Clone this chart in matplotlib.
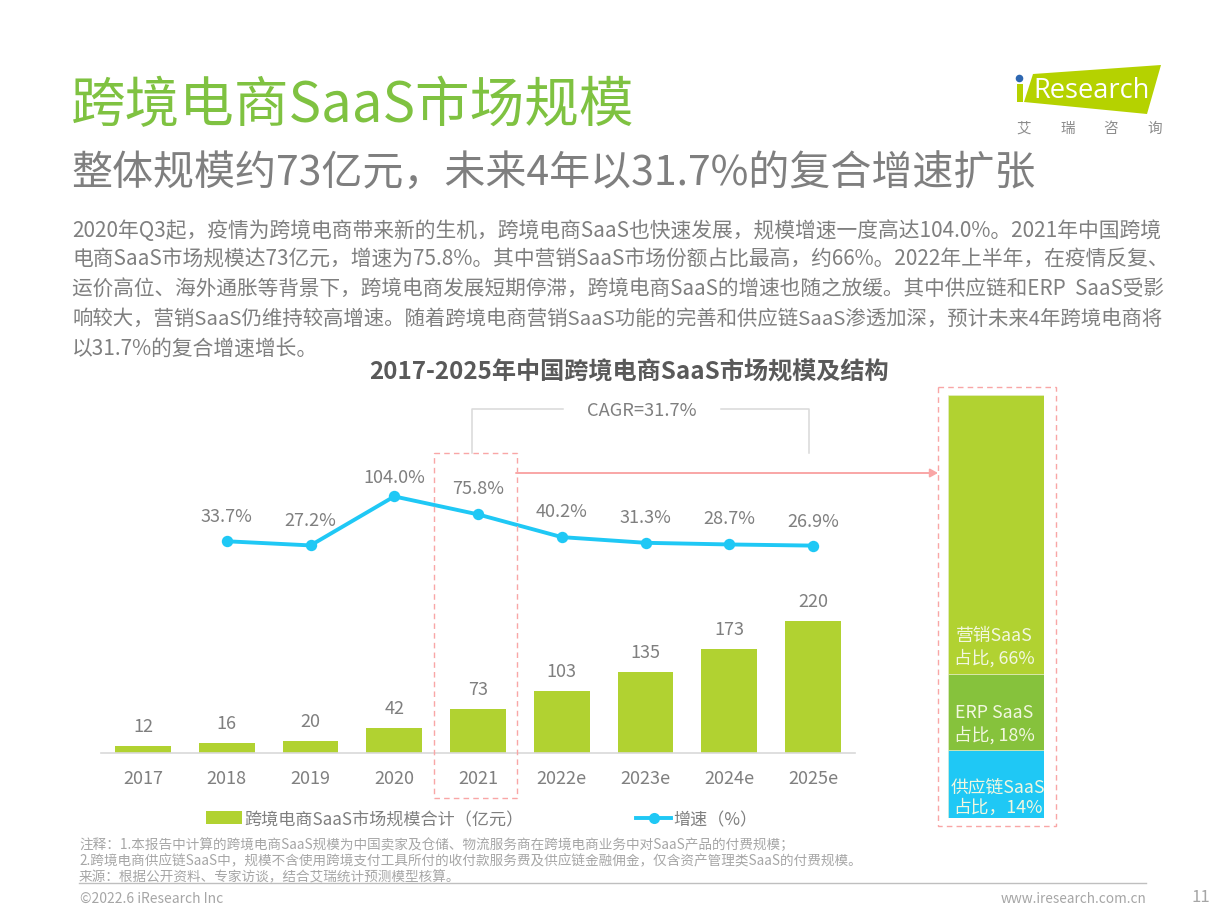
import matplotlib
matplotlib.use('Agg')
import matplotlib.pyplot as plt
from matplotlib.patches import Polygon, Circle, Rectangle

plt.rcParams['font.family'] = ['Noto Sans CJK SC', 'DejaVu Sans']

years = ['2017', '2018', '2019', '2020', '2021', '2022e', '2023e', '2024e', '2025e']
market = [12, 16, 20, 42, 73, 103, 135, 173, 220]
growth_index = [1, 2, 3, 4, 5, 6, 7, 8]
growth = [33.7, 27.2, 104.0, 75.8, 40.2, 31.3, 28.7, 26.9]
growth_labels = ['33.7%', '27.2%', '104.0%', '75.8%', '40.2%', '31.3%', '28.7%', '26.9%']
share_line1 = ['供应链SaaS', 'ERP SaaS', '营销SaaS']
share_line2 = ['占比，14%', '占比, 18%', '占比, 66%']
share_drawn = [16, 18, 66]
share_colors = ['#1FC8F5', '#86C23C', '#B1D231']
title = '跨境电商SaaS市场规模'
subtitle = '整体规模约73亿元，未来4年以31.7%的复合增速扩张'
body = [
    '2020年Q3起，疫情为跨境电商带来新的生机，跨境电商SaaS也快速发展，规模增速一度高达104.0%。2021年中国跨境',
    '电商SaaS市场规模达73亿元，增速为75.8%。其中营销SaaS市场份额占比最高，约66%。2022年上半年，在疫情反复、',
    '运价高位、海外通胀等背景下，跨境电商发展短期停滞，跨境电商SaaS的增速也随之放缓。其中供应链和ERP  SaaS受影',
    '响较大，营销SaaS仍维持较高增速。随着跨境电商营销SaaS功能的完善和供应链SaaS渗透加深，预计未来4年跨境电商将',
    '以31.7%的复合增速增长。',
]
body_sizes = [14.95, 14.95, 14.85, 14.7, 14.95]
notes = [
    '注释：1.本报告中计算的跨境电商SaaS规模为中国卖家及仓储、物流服务商在跨境电商业务中对SaaS产品的付费规模；',
    '2.跨境电商供应链SaaS中，规模不含使用跨境支付工具所付的收付款服务费及供应链金融佣金，仅含资产管理类SaaS的付费规模。',
    '来源：根据公开资料、专家访谈，结合艾瑞统计预测模型核算。',
]

W, H = 1225, 919
GRAY = '#7F7F7F'
BAR = '#B1D231'
BLUE = '#1FC8F5'
PINK = '#F9A6A6'
LABEL = 13

fig = plt.figure(figsize=(W / 100, H / 100), dpi=100, facecolor='white')


def axes_px(x0, y0, x1, y1, **kw):
    return fig.add_axes([x0 / W, 1 - y1 / H, (x1 - x0) / W, (y1 - y0) / H], **kw)


# overlay in pixel coordinates
ov = fig.add_axes([0, 0, 1, 1], zorder=5)
ov.set_xlim(0, W)
ov.set_ylim(H, 0)
ov.axis('off')
ov.patch.set_alpha(0)

# main bars
ax = axes_px(101.1, 394.4, 855, 752.9)
x = list(range(len(years)))
ax.bar(x, market, width=0.665, color=BAR)
ax.set_xlim(-0.5, 8.5)
ax.set_ylim(0, 597.5)
ax.set_xticks(x)
ax.set_xticklabels(years, fontsize=LABEL, color=GRAY)
ax.tick_params(axis='x', length=0, pad=12)
ax.set_yticks([])
for s in ['top', 'left', 'right']:
    ax.spines[s].set_visible(False)
ax.spines['bottom'].set_color('#D9D9D9')
ax.spines['bottom'].set_linewidth(1.2)
ax.patch.set_alpha(0)
for xi, v in zip(x, market):
    ax.annotate(str(v), (xi, v), xytext=(0, 19), textcoords='offset pixels',
                ha='center', va='center', fontsize=LABEL, color=GRAY)

# growth line
ax2 = ax.twinx()
ax2.set_ylim(-298, 263.9)
ax2.set_yticks([])
for s in ax2.spines.values():
    s.set_visible(False)
ax2.plot(growth_index, growth, color=BLUE, lw=2.8, marker='o', ms=8.2, mew=0)
offs = [24, 24, 18, 25, 25, 25, 25, 24]
for xi, v, lab, o in zip(growth_index, growth, growth_labels, offs):
    ax2.annotate(lab, (xi, v), xytext=(0, o), textcoords='offset pixels',
                 ha='center', va='center', fontsize=LABEL, color=GRAY)

# share stack
ax3 = axes_px(948, 395, 1044, 818)
bottom = 0
for v, c in zip(share_drawn, share_colors):
    ax3.bar(0, v, bottom=bottom, width=1, color=c, edgecolor='#E6EFD0', linewidth=0.4)
    bottom += v
ax3.set_xlim(-0.5, 0.5)
ax3.set_ylim(0, 100)
ax3.axis('off')
for l1, l2, xc, y1, y2 in zip(share_line1, share_line2, [998, 994, 994], [788, 713, 636], [808, 735, 658]):
    ov.text(xc, y1, l1, ha='center', va='center', fontsize=12.8, color='#F2F7E0')
    ov.text(xc, y2, l2, ha='center', va='center', fontsize=12.8, color='#F2F7E0')

# dashed highlight boxes
ov.add_patch(Rectangle((433.5, 453), 83, 345, fill=False, ec=PINK, lw=1.0, ls=(0, (4, 3))))
ov.add_patch(Rectangle((938, 387), 118, 439, fill=False, ec=PINK, lw=1.0, ls=(0, (4, 3))))
ov.annotate('', xy=(938, 473), xytext=(516, 473),
            arrowprops=dict(arrowstyle='-|>,head_width=0.25,head_length=0.45', color=PINK, lw=1.4,
                            shrinkA=0, shrinkB=0))

# CAGR bracket
ov.plot([472, 472, 563], [453, 409, 409], color='#D9D9D9', lw=1.1)
ov.plot([721, 809, 809], [409, 409, 453], color='#D9D9D9', lw=1.1)
ov.text(642, 411, 'CAGR=31.7%', ha='center', va='center', fontsize=13.2, color=GRAY)

# headings
ov.text(71, 106, title, ha='left', va='center', fontsize=39.3, color='#7FC241')
ov.text(71, 173, subtitle, ha='left', va='center', fontsize=29.5, color=GRAY)
for t, y, fs in zip(body, [231, 260, 289, 319, 349], body_sizes):
    ov.text(72, y, t, ha='left', va='center', fontsize=fs, color=GRAY)
ov.text(629, 373, '2017-2025年中国跨境电商SaaS市场规模及结构', ha='center', va='center',
        fontsize=17.4, fontweight='bold', color='#595959')

# legend
ov.add_patch(Rectangle((206, 811), 36, 13, color=BAR, lw=0))
ov.text(244, 820, '跨境电商SaaS市场规模合计（亿元）', ha='left', va='center', fontsize=12.3, color=GRAY)
ov.plot([636, 671], [818, 818], color=BLUE, lw=2.8)
ov.plot([654], [818], 'o', color=BLUE, ms=8, mew=0)
ov.text(673, 820, '增速（%）', ha='left', va='center', fontsize=12.3, color=GRAY)

# notes and footer
for t, y in zip(notes, [845, 861, 877]):
    ov.text(79, y, t, ha='left', va='center', fontsize=9.8, color='#A6A6A6')
ov.plot([79, 1146], [883, 883], color='#BFBFBF', lw=1)
ov.text(80, 899, '©2022.6 iResearch Inc', ha='left', va='center', fontsize=10, color='#A6A6A6')
ov.text(1146, 899, 'www.iresearch.com.cn', ha='right', va='center', fontsize=9.8, color='#A6A6A6')
ov.text(1201, 898, '11', ha='center', va='center', fontsize=12, color='#A6A6A6')

# logo
ov.add_patch(Polygon([(1033, 74), (1161, 65), (1147, 114), (1024, 102)], closed=True, color='#B5D200', lw=0))
ov.add_patch(Rectangle((1017, 84), 6, 18, color='#B5D200', lw=0))
ov.add_patch(Circle((1019.5, 78.5), 3.8, color='#2E67B1', lw=0))
ov.text(1033, 91, 'Research', ha='left', va='center', fontsize=19.6, color='white',
        family=['Open Sans', 'DejaVu Sans'])
for ch, xc in zip('艾瑞咨询', [1024, 1068, 1111, 1155]):
    ov.text(xc, 129, ch, ha='center', va='center', fontsize=10.5, color='#8C8C8C')

fig.savefig('out.png', dpi=100)
